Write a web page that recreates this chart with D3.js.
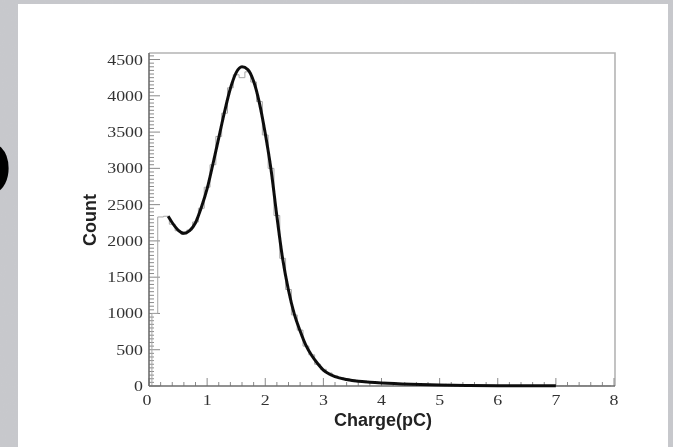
<!DOCTYPE html>
<html>
<head>
<meta charset="utf-8">
<script src="https://cdn.jsdelivr.net/npm/d3@7"></script>
<style>
  html, body { margin: 0; padding: 0; background: #c8c9cd; }
  #chart { width: 673px; height: 447px; overflow: hidden; }
</style>
</head>
<body>
<div id="chart"></div>
<script>
// histogram bins, width 0.1, centres 0.1 .. 7.9
const binCenters = d3.range(1, 80).map(i => i / 10);
const binCounts = [
  1000, 2330, 2340, 2230, 2140, 2090, 2150, 2260, 2450, 2740,
  3050, 3440, 3760, 4110, 4290, 4250, 4330, 4190, 3920, 3460,
  3000, 2350, 1760, 1330, 980, 770, 550, 430, 300, 230,
  180, 140, 115, 100, 85, 75, 68, 58, 52, 48,
  44, 40, 36, 33, 30, 28, 25, 22, 20, 19,
  17, 15, 14, 12, 11, 10, 9, 8, 8, 7,
  6, 6, 5, 5, 4, 4, 3, 3, 3, 2,
  2, 2, 2, 1, 1, 1, 1, 1, 1
];

// fitted curve
const fitX = [0.33, 0.4, 0.5, 0.6, 0.7, 0.8, 0.9, 1.0, 1.1, 1.2, 1.3, 1.4, 1.5, 1.6, 1.7, 1.8, 1.9, 2.0,
  2.1, 2.2, 2.3, 2.4, 2.5, 2.6, 2.7, 2.8, 2.9, 3.0, 3.1, 3.2, 3.4, 3.6, 3.8, 4.0, 4.5, 5.0, 5.5, 6.0, 6.5, 7.0];
const fitY = [2340, 2250, 2150, 2105, 2140, 2250, 2460, 2720, 3060, 3420, 3780, 4100, 4320, 4400, 4360, 4200, 3900, 3480,
  2980, 2340, 1750, 1320, 990, 760, 560, 420, 310, 220, 165, 130, 90, 65, 52, 42, 25, 15, 8, 5, 3, 2];

const xTicks = [0, 1, 2, 3, 4, 5, 6, 7, 8];
const yTicks = [0, 500, 1000, 1500, 2000, 2500, 3000, 3500, 4000, 4500];

const width = 673, height = 447;

const svg = d3.select("#chart").append("svg")
  .attr("width", width)
  .attr("height", height);

const defs = svg.append("defs");
const tex = defs.append("filter").attr("id", "tex");
tex.append("feTurbulence").attr("type", "fractalNoise").attr("baseFrequency", 0.9).attr("numOctaves", 2).attr("result", "n");
tex.append("feColorMatrix").attr("type", "matrix")
  .attr("values", "0 0 0 0 0.5  0 0 0 0 0.5  0 0 0 0 0.52  0 0 0 0.12 0");
defs.append("filter").attr("id", "soft")
  .append("feGaussianBlur").attr("stdDeviation", 0.45);

// background and slide panel
svg.append("rect").attr("width", width).attr("height", height).attr("fill", "#c8c9cd");
svg.append("rect").attr("width", width).attr("height", height).attr("filter", "url(#tex)");
svg.append("text")
  .attr("x", 12).attr("y", 196)
  .attr("text-anchor", "end")
  .style("font-family", "Liberation Sans, Arial, sans-serif")
  .style("font-weight", "bold")
  .style("font-size", "80px")
  .attr("fill", "#000")
  .text("O");
svg.append("rect").attr("x", 18).attr("y", 4).attr("width", 650).attr("height", 460).attr("fill", "#fff");

const x = d3.scaleLinear().domain([0, 8]).range([149, 614]);
const y = d3.scaleLinear().domain([0, 4590]).range([386, 53]);

const g = svg.append("g").attr("filter", "url(#soft)");

// frame
g.append("path")
  .attr("d", `M${x(0)},${y(4590)}H${x(8) + 1}V${y(0)}`)
  .attr("fill", "none").attr("stroke", "#b4b4b4").attr("stroke-width", 1.6);

// y axis ticks (inside, to the right)
const yMinor = d3.range(0, 4591, 50);
g.append("g").selectAll("line").data(yMinor).join("line")
  .attr("x1", x(0)).attr("x2", d => x(0) + (d % 500 === 0 ? 11 : 5))
  .attr("y1", d => y(d)).attr("y2", d => y(d))
  .attr("stroke", "#8a8a8a").attr("stroke-width", 1);

// x axis ticks (inside, upward)
const xMinor = d3.range(0, 41).map(i => i / 5);
g.append("g").selectAll("line").data(xMinor).join("line")
  .attr("x1", d => x(d)).attr("x2", d => x(d))
  .attr("y1", y(0)).attr("y2", d => y(0) - (Math.abs(d - Math.round(d)) < 1e-6 ? 8 : 4))
  .attr("stroke", "#8a8a8a").attr("stroke-width", 1);

// histogram
const stepPts = [[binCenters[0] - 0.05, 0]];
binCenters.forEach((c, i) => stepPts.push([c - 0.05, binCounts[i]]));
stepPts.push([binCenters[binCenters.length - 1] + 0.05, binCounts[binCounts.length - 1]]);
g.append("path")
  .datum(stepPts)
  .attr("fill", "none")
  .attr("stroke", "#a6a6a6")
  .attr("stroke-width", 1)
  .attr("d", d3.line().x(d => x(d[0])).y(d => y(d[1])).curve(d3.curveStepAfter));

// axes lines
g.append("line").attr("x1", x(0)).attr("x2", x(0)).attr("y1", y(0)).attr("y2", y(4590))
  .attr("stroke", "#6e6e6e").attr("stroke-width", 1.6);
g.append("line").attr("x1", x(0)).attr("x2", x(8) + 1).attr("y1", y(0)).attr("y2", y(0))
  .attr("stroke", "#6e6e6e").attr("stroke-width", 1.6);

// fit curve
g.append("path")
  .datum(fitX.map((v, i) => [v, fitY[i]]))
  .attr("fill", "none")
  .attr("stroke", "#111")
  .attr("stroke-width", 3)
  .attr("stroke-linejoin", "round")
  .attr("d", d3.line().x(d => x(d[0])).y(d => y(d[1])).curve(d3.curveMonotoneX));

// tick labels
const serif = "Liberation Serif, Times New Roman, serif";
g.append("g").selectAll("text").data(yTicks).join("text")
  .attr("transform", d => `translate(143,${y(d) + 5}) scale(1.28,1)`)
  .attr("text-anchor", "end")
  .style("font-family", serif).style("font-size", "14px")
  .attr("fill", "#333")
  .text(d => d);

g.append("g").selectAll("text").data(xTicks).join("text")
  .attr("transform", d => `translate(${x(d) - (d === 0 ? 2 : 0)},405) scale(1.28,1)`)
  .attr("text-anchor", "middle")
  .style("font-family", serif).style("font-size", "14px")
  .attr("fill", "#333")
  .text(d => d);

// axis titles
g.append("text")
  .attr("transform", "translate(96,220) rotate(-90)")
  .attr("text-anchor", "middle")
  .style("font-family", "Liberation Sans, Arial, sans-serif")
  .style("font-weight", "bold").style("font-size", "18px")
  .attr("fill", "#222")
  .text("Count");

g.append("text")
  .attr("x", 383).attr("y", 426)
  .attr("text-anchor", "middle")
  .style("font-family", "Liberation Sans, Arial, sans-serif")
  .style("font-weight", "bold").style("font-size", "18px")
  .attr("fill", "#222")
  .text("Charge(pC)");
</script>
</body>
</html>
